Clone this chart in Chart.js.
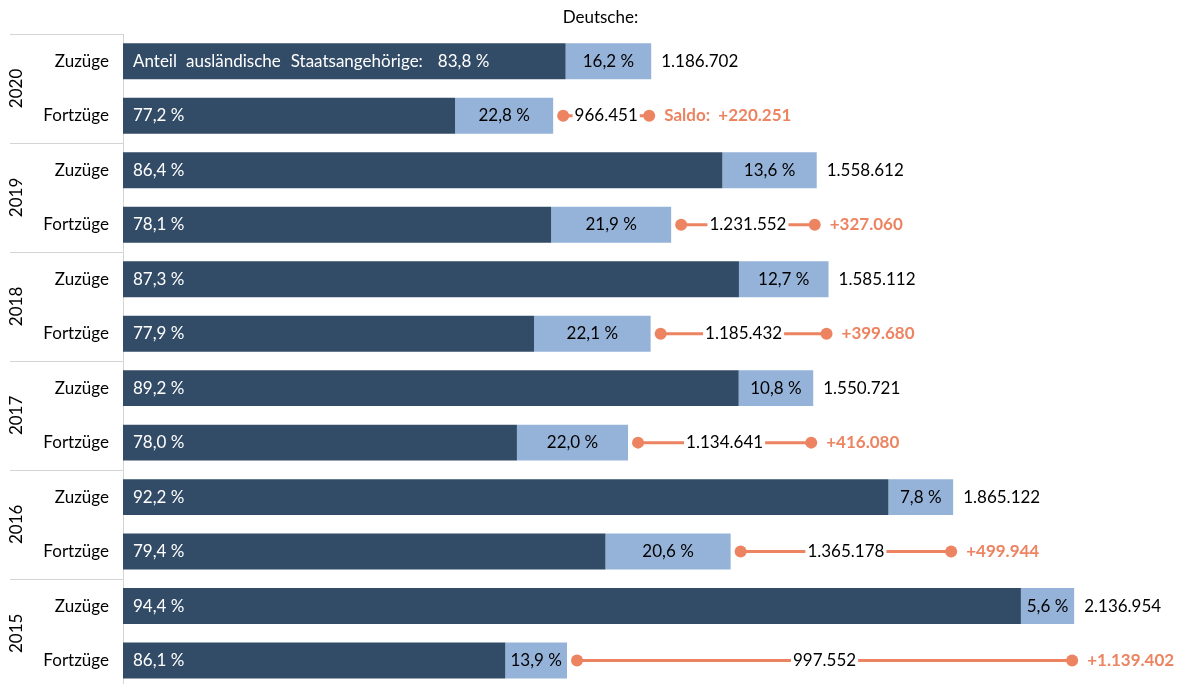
<!DOCTYPE html>
<html>
<head>
<meta charset="utf-8">
<script src="https://cdn.jsdelivr.net/npm/chart.js@4"></script>
<style>
  html, body { margin: 0; padding: 0; background: #fff; overflow: hidden; }
  canvas { display: block; }
</style>
</head>
<body>
<canvas id="myChart" width="1179" height="704"></canvas>
<script>
// Werte aus der Grafik
const years = ['2020', '2019', '2018', '2017', '2016', '2015'];
const rowNames = ['Zuzüge', 'Fortzüge'];

const zuzuegeTotal = [1186702, 1558612, 1585112, 1550721, 1865122, 2136954];
const fortzuegeTotal = [966451, 1231552, 1185432, 1134641, 1365178, 997552];

const zuzuegeAuslaender = [83.8, 86.4, 87.3, 89.2, 92.2, 94.4];
const zuzuegeDeutsche = [16.2, 13.6, 12.7, 10.8, 7.8, 5.6];
const fortzuegeAuslaender = [77.2, 78.1, 77.9, 78.0, 79.4, 86.1];
const fortzuegeDeutsche = [22.8, 21.9, 22.1, 22.0, 20.6, 13.9];

const saldo = [220251, 327060, 399680, 416080, 499944, 1139402];

const DARK = '#324b66';
const LIGHT = '#95b3d9';
const ORANGE = '#ec8462';
const FONT_FAMILY = 'Lato, "Open Sans", sans-serif';
const FONT = '17px ' + FONT_FAMILY;

// rows: 2020 Zuzüge, 2020 Fortzüge, 2019 Zuzüge, ...
var rowLabels = [], totals = [], auslShare = [], deuShare = [];
years.forEach(function (y, i) {
    rowLabels.push(rowNames[0], rowNames[1]);
    totals.push(zuzuegeTotal[i], fortzuegeTotal[i]);
    auslShare.push(zuzuegeAuslaender[i], fortzuegeAuslaender[i]);
    deuShare.push(zuzuegeDeutsche[i], fortzuegeDeutsche[i]);
});

var darkValues = totals.map(function (t, i) { return t * auslShare[i] / 100; });
var lightValues = totals.map(function (t, i) { return t * deuShare[i] / 100; });

function fmtNum(n) {
    return String(n).replace(/\B(?=(\d{3})+(?!\d))/g, '.');
}
function fmtPct(p) {
    return p.toFixed(1).replace('.', ',') + ' %';
}

const labelPlugin = {
    id: 'barLabels',
    afterDatasetsDraw: function (chart) {
        var ctx = chart.ctx;
        var dark = chart.getDatasetMeta(0).data;
        var light = chart.getDatasetMeta(1).data;
        ctx.save();
        ctx.font = FONT;
        ctx.textBaseline = 'middle';

        // title over the German part
        ctx.fillStyle = '#000';
        ctx.textAlign = 'left';
        ctx.fillText('Deutsche:', light[0].base - 3, 18);

        for (var i = 0; i < rowLabels.length; i++) {
            var d = dark[i], l = light[i];
            var y = d.y;

            ctx.font = FONT;
            ctx.fillStyle = '#fff';
            ctx.textAlign = 'left';
            if (i === 0) {
                // long label on first bar, words spaced a bit wider
                var parts = ['Anteil', 'ausländische', 'Staatsangehörige:', fmtPct(auslShare[i])];
                var gaps = [9, 10, 15];
                var xx = d.base + 10;
                parts.forEach(function (p, k) {
                    ctx.fillText(p, xx, y);
                    xx += ctx.measureText(p).width + (gaps[k] || 0);
                });
            } else {
                ctx.fillText(fmtPct(auslShare[i]), d.base + 10, y);
            }

            ctx.fillStyle = '#000';
            ctx.textAlign = 'center';
            ctx.fillText(fmtPct(deuShare[i]), (l.base + l.x) / 2, y);

            if (i % 2 === 0) {
                ctx.textAlign = 'left';
                ctx.fillText(fmtNum(totals[i]), l.x + 10, y);
            } else {
                var g = (i - 1) / 2;
                var x1 = l.x + 10;
                var x2 = light[i - 1].x - 2;
                var txt = fmtNum(totals[i]);
                var mid = (x1 + x2) / 2;
                var tw = ctx.measureText(txt).width;

                ctx.strokeStyle = ORANGE;
                ctx.lineWidth = 3;
                ctx.beginPath();
                ctx.moveTo(x1, y);
                ctx.lineTo(mid - tw / 2 - 2, y);
                ctx.moveTo(mid + tw / 2 + 2, y);
                ctx.lineTo(x2, y);
                ctx.stroke();

                ctx.fillStyle = ORANGE;
                ctx.beginPath();
                ctx.arc(x1, y, 6, 0, Math.PI * 2);
                ctx.fill();
                ctx.beginPath();
                ctx.arc(x2, y, 6, 0, Math.PI * 2);
                ctx.fill();

                ctx.fillStyle = '#000';
                ctx.textAlign = 'center';
                ctx.fillText(txt, mid, y);

                ctx.font = 'bold ' + FONT;
                ctx.fillStyle = ORANGE;
                ctx.textAlign = 'left';
                var sTxt = '+' + fmtNum(saldo[g]);
                if (g === 0) sTxt = 'Saldo:  ' + sTxt;
                ctx.fillText(sTxt, x2 + 15, y);
            }
        }
        ctx.restore();
    }
};

const yearPlugin = {
    id: 'yearGroups',
    afterDraw: function (chart) {
        var ctx = chart.ctx;
        var yScale = chart.scales.y;
        ctx.save();
        ctx.strokeStyle = '#d4d4d4';
        ctx.lineWidth = 1;
        for (var g = 0; g <= years.length; g++) {
            var yb = Math.round(yScale.getPixelForValue(2 * g - 0.5)) + 0.5;
            ctx.beginPath();
            ctx.moveTo(10, yb);
            ctx.lineTo(yScale.right, yb);
            ctx.stroke();
        }
        ctx.font = FONT;
        ctx.fillStyle = '#000';
        ctx.textAlign = 'center';
        ctx.textBaseline = 'middle';
        years.forEach(function (yr, g) {
            var yc = yScale.getPixelForValue(2 * g + 0.5);
            ctx.save();
            ctx.translate(17, yc);
            ctx.rotate(-Math.PI / 2);
            ctx.fillText(yr, 0, 0);
            ctx.restore();
        });
        ctx.restore();
    }
};

const ctx = document.getElementById('myChart');

new Chart(ctx, {
    type: 'bar',
    data: {
        labels: rowLabels,
        datasets: [{
            label: 'Ausländische Staatsangehörige',
            data: darkValues,
            backgroundColor: DARK,
            barPercentage: 0.66,
            categoryPercentage: 1
        }, {
            label: 'Deutsche',
            data: lightValues,
            backgroundColor: LIGHT,
            barPercentage: 0.66,
            categoryPercentage: 1
        }]
    },
    options: {
        indexAxis: 'y',
        responsive: false,
        animation: false,
        layout: { padding: { top: 34, left: 0, right: 0, bottom: 0 } },
        plugins: {
            legend: { display: false },
            tooltip: { enabled: false }
        },
        scales: {
            x: {
                stacked: true,
                display: false,
                min: 0,
                max: 2372500
            },
            y: {
                stacked: true,
                grid: { display: false },
                border: { display: true, color: '#d4d4d4', width: 1 },
                ticks: {
                    color: '#000',
                    padding: 6,
                    font: { family: FONT_FAMILY, size: 17 }
                },
                afterFit: function (scale) {
                    scale.width = 123;
                }
            }
        }
    },
    plugins: [labelPlugin, yearPlugin]
});
</script>
</body>
</html>
